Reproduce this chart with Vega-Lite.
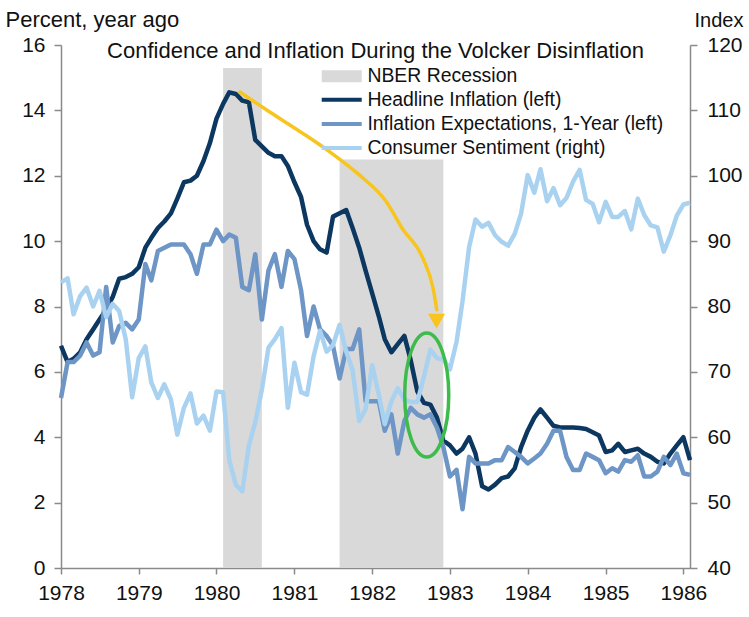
{
  "$schema": "https://vega.github.io/schema/vega-lite/v6.json",
  "width": 629,
  "height": 523,
  "autosize": {"type": "none"},
  "padding": {"left": 61, "top": 45, "right": 59, "bottom": 49},
  "background": "white",
  "title": {
    "text": "Confidence and Inflation During the Volcker Disinflation",
    "anchor": "middle",
    "frame": "group",
    "baseline": "alphabetic",
    "offset": -72,
    "fontSize": 22,
    "fontWeight": "normal",
    "font": "Liberation Sans",
    "color": "#111111"
  },
  "config": {
    "view": {"stroke": null},
    "font": "Liberation Sans",
    "axis": {
      "grid": false,
      "domainColor": "#8a8a8a",
      "domainWidth": 1.5,
      "tickColor": "#8a8a8a",
      "tickWidth": 1.5,
      "labelFontSize": 21,
      "labelColor": "#111111",
      "labelFont": "Liberation Sans",
      "titleFontSize": 22,
      "titleFontWeight": "normal",
      "titleColor": "#111111",
      "titleFont": "Liberation Sans"
    },
    "legend": {
      "labelFontSize": 19.4,
      "labelFont": "Liberation Sans",
      "labelColor": "#111111",
      "labelLimit": 400,
      "padding": 0,
      "offset": 0,
      "symbolSize": 100,
      "symbolOffset": 10,
      "labelOffset": 16,
      "symbolOpacity": 1
    }
  },
  "datasets": {
    "monthly": [
      {"date": "1978-01-01", "headline": 6.8, "expect": 5.2, "sentiment": 83.7},
      {"date": "1978-02-01", "headline": 6.3, "expect": 6.3, "sentiment": 84.3},
      {"date": "1978-03-01", "headline": 6.4, "expect": 6.3, "sentiment": 78.8},
      {"date": "1978-04-01", "headline": 6.6, "expect": 6.5, "sentiment": 81.6},
      {"date": "1978-05-01", "headline": 7.0, "expect": 6.9, "sentiment": 82.9},
      {"date": "1978-06-01", "headline": 7.3, "expect": 6.5, "sentiment": 80.0},
      {"date": "1978-07-01", "headline": 7.6, "expect": 6.6, "sentiment": 82.4},
      {"date": "1978-08-01", "headline": 7.9, "expect": 8.6, "sentiment": 78.4},
      {"date": "1978-09-01", "headline": 8.3, "expect": 6.9, "sentiment": 80.4},
      {"date": "1978-10-01", "headline": 8.85, "expect": 7.4, "sentiment": 79.3},
      {"date": "1978-11-01", "headline": 8.9, "expect": 7.5, "sentiment": 75.0},
      {"date": "1978-12-01", "headline": 9.0, "expect": 7.3, "sentiment": 66.1},
      {"date": "1979-01-01", "headline": 9.2, "expect": 7.6, "sentiment": 72.1},
      {"date": "1979-02-01", "headline": 9.8, "expect": 9.3, "sentiment": 73.9},
      {"date": "1979-03-01", "headline": 10.1, "expect": 8.8, "sentiment": 68.4},
      {"date": "1979-04-01", "headline": 10.4, "expect": 9.7, "sentiment": 66.0},
      {"date": "1979-05-01", "headline": 10.6, "expect": 9.8, "sentiment": 68.1},
      {"date": "1979-06-01", "headline": 10.85, "expect": 9.9, "sentiment": 65.8},
      {"date": "1979-07-01", "headline": 11.3, "expect": 9.9, "sentiment": 60.4},
      {"date": "1979-08-01", "headline": 11.8, "expect": 9.9, "sentiment": 64.5},
      {"date": "1979-09-01", "headline": 11.85, "expect": 9.6, "sentiment": 66.7},
      {"date": "1979-10-01", "headline": 12.0, "expect": 9.0, "sentiment": 62.1},
      {"date": "1979-11-01", "headline": 12.45, "expect": 9.9, "sentiment": 63.3},
      {"date": "1979-12-01", "headline": 13.0, "expect": 9.9, "sentiment": 61.0},
      {"date": "1980-01-01", "headline": 13.75, "expect": 10.35, "sentiment": 67.0},
      {"date": "1980-02-01", "headline": 14.2, "expect": 10.0, "sentiment": 66.9},
      {"date": "1980-03-01", "headline": 14.55, "expect": 10.2, "sentiment": 56.5},
      {"date": "1980-04-01", "headline": 14.5, "expect": 10.1, "sentiment": 52.7},
      {"date": "1980-05-01", "headline": 14.3, "expect": 8.6, "sentiment": 51.7},
      {"date": "1980-06-01", "headline": 14.25, "expect": 8.5, "sentiment": 58.7},
      {"date": "1980-07-01", "headline": 13.1, "expect": 9.6, "sentiment": 62.3},
      {"date": "1980-08-01", "headline": 12.9, "expect": 7.6, "sentiment": 67.3},
      {"date": "1980-09-01", "headline": 12.7, "expect": 9.1, "sentiment": 73.7},
      {"date": "1980-10-01", "headline": 12.6, "expect": 9.6, "sentiment": 75.0},
      {"date": "1980-11-01", "headline": 12.6, "expect": 8.6, "sentiment": 76.7},
      {"date": "1980-12-01", "headline": 12.3, "expect": 9.7, "sentiment": 64.5},
      {"date": "1981-01-01", "headline": 11.8, "expect": 9.45, "sentiment": 71.4},
      {"date": "1981-02-01", "headline": 11.35, "expect": 8.5, "sentiment": 66.9},
      {"date": "1981-03-01", "headline": 10.5, "expect": 7.1, "sentiment": 66.5},
      {"date": "1981-04-01", "headline": 10.0, "expect": 8.0, "sentiment": 72.4},
      {"date": "1981-05-01", "headline": 9.75, "expect": 7.3, "sentiment": 76.3},
      {"date": "1981-06-01", "headline": 9.65, "expect": 7.1, "sentiment": 73.1},
      {"date": "1981-07-01", "headline": 10.75, "expect": 6.8, "sentiment": 74.1},
      {"date": "1981-08-01", "headline": 10.85, "expect": 5.8, "sentiment": 77.2},
      {"date": "1981-09-01", "headline": 10.95, "expect": 6.7, "sentiment": 73.1},
      {"date": "1981-10-01", "headline": 10.4, "expect": 6.7, "sentiment": 70.3},
      {"date": "1981-11-01", "headline": 9.8, "expect": 7.3, "sentiment": 62.5},
      {"date": "1981-12-01", "headline": 9.1, "expect": 5.1, "sentiment": 64.3},
      {"date": "1982-01-01", "headline": 8.4, "expect": 5.1, "sentiment": 71.0},
      {"date": "1982-02-01", "headline": 7.7, "expect": 5.1, "sentiment": 66.5},
      {"date": "1982-03-01", "headline": 7.0, "expect": 4.2, "sentiment": 62.0},
      {"date": "1982-04-01", "headline": 6.6, "expect": 4.7, "sentiment": 65.5},
      {"date": "1982-05-01", "headline": 6.85, "expect": 3.5, "sentiment": 67.5},
      {"date": "1982-06-01", "headline": 7.1, "expect": 4.5, "sentiment": 65.7},
      {"date": "1982-07-01", "headline": 6.35, "expect": 4.9, "sentiment": 65.4},
      {"date": "1982-08-01", "headline": 5.4, "expect": 4.7, "sentiment": 65.4},
      {"date": "1982-09-01", "headline": 5.05, "expect": 4.6, "sentiment": 69.3},
      {"date": "1982-10-01", "headline": 5.0, "expect": 4.7, "sentiment": 73.4},
      {"date": "1982-11-01", "headline": 4.6, "expect": 4.3, "sentiment": 72.1},
      {"date": "1982-12-01", "headline": 3.9, "expect": 3.7, "sentiment": 71.9},
      {"date": "1983-01-01", "headline": 3.75, "expect": 2.8, "sentiment": 70.4},
      {"date": "1983-02-01", "headline": 3.5, "expect": 3.0, "sentiment": 74.6},
      {"date": "1983-03-01", "headline": 3.65, "expect": 1.8, "sentiment": 80.8},
      {"date": "1983-04-01", "headline": 4.0, "expect": 3.4, "sentiment": 89.1},
      {"date": "1983-05-01", "headline": 3.5, "expect": 3.2, "sentiment": 93.3},
      {"date": "1983-06-01", "headline": 2.5, "expect": 3.2, "sentiment": 92.2},
      {"date": "1983-07-01", "headline": 2.4, "expect": 3.2, "sentiment": 92.8},
      {"date": "1983-08-01", "headline": 2.55, "expect": 3.3, "sentiment": 90.9},
      {"date": "1983-09-01", "headline": 2.75, "expect": 3.3, "sentiment": 89.9},
      {"date": "1983-10-01", "headline": 2.8, "expect": 3.7, "sentiment": 89.3},
      {"date": "1983-11-01", "headline": 3.05, "expect": 3.55, "sentiment": 91.1},
      {"date": "1983-12-01", "headline": 3.7, "expect": 3.4, "sentiment": 94.2},
      {"date": "1984-01-01", "headline": 4.2, "expect": 3.2, "sentiment": 100.1},
      {"date": "1984-02-01", "headline": 4.6, "expect": 3.35, "sentiment": 97.4},
      {"date": "1984-03-01", "headline": 4.85, "expect": 3.5, "sentiment": 101.0},
      {"date": "1984-04-01", "headline": 4.6, "expect": 3.8, "sentiment": 96.1},
      {"date": "1984-05-01", "headline": 4.35, "expect": 4.2, "sentiment": 98.1},
      {"date": "1984-06-01", "headline": 4.3, "expect": 4.2, "sentiment": 95.5},
      {"date": "1984-07-01", "headline": 4.3, "expect": 3.4, "sentiment": 96.6},
      {"date": "1984-08-01", "headline": 4.3, "expect": 3.0, "sentiment": 99.1},
      {"date": "1984-09-01", "headline": 4.28, "expect": 3.0, "sentiment": 100.9},
      {"date": "1984-10-01", "headline": 4.25, "expect": 3.5, "sentiment": 96.3},
      {"date": "1984-11-01", "headline": 4.15, "expect": 3.4, "sentiment": 95.7},
      {"date": "1984-12-01", "headline": 4.05, "expect": 3.3, "sentiment": 92.9},
      {"date": "1985-01-01", "headline": 3.55, "expect": 2.9, "sentiment": 96.0},
      {"date": "1985-02-01", "headline": 3.6, "expect": 3.05, "sentiment": 93.7},
      {"date": "1985-03-01", "headline": 3.8, "expect": 2.95, "sentiment": 93.7},
      {"date": "1985-04-01", "headline": 3.55, "expect": 3.3, "sentiment": 94.6},
      {"date": "1985-05-01", "headline": 3.6, "expect": 3.25, "sentiment": 91.8},
      {"date": "1985-06-01", "headline": 3.65, "expect": 3.45, "sentiment": 96.5},
      {"date": "1985-07-01", "headline": 3.5, "expect": 2.8, "sentiment": 94.0},
      {"date": "1985-08-01", "headline": 3.4, "expect": 2.8, "sentiment": 92.4},
      {"date": "1985-09-01", "headline": 3.25, "expect": 2.95, "sentiment": 92.1},
      {"date": "1985-10-01", "headline": 3.2, "expect": 3.4, "sentiment": 88.4},
      {"date": "1985-11-01", "headline": 3.5, "expect": 3.15, "sentiment": 90.9},
      {"date": "1985-12-01", "headline": 3.75, "expect": 3.5, "sentiment": 93.9},
      {"date": "1986-01-01", "headline": 4.0, "expect": 2.9, "sentiment": 95.6},
      {"date": "1986-02-01", "headline": 3.3, "expect": 2.85, "sentiment": 95.9}
    ],
    "recessions": [
      {"date": "1980-02-01", "end": "1980-08-01", "top": 15.3, "label": "NBER Recession"},
      {"date": "1981-08-01", "end": "1982-12-01", "top": 12.5, "label": "NBER Recession"}
    ],
    "arrow": [
      {"date": "1980-04-20", "value": 14.56},
      {"date": "1980-09-07", "value": 13.95},
      {"date": "1981-02-11", "value": 13.29},
      {"date": "1981-06-16", "value": 12.73},
      {"date": "1981-11-04", "value": 12.01},
      {"date": "1982-03-09", "value": 11.2},
      {"date": "1982-05-23", "value": 10.38},
      {"date": "1982-08-28", "value": 9.46},
      {"date": "1982-10-14", "value": 8.55},
      {"date": "1982-10-31", "value": 7.9}
    ],
    "arrowhead": [
      {"date": "1982-10-30", "value": 7.55}
    ],
    "circled": [
      {"date": "1982-09-14", "value": 5.29}
    ]
  },
  "layer": [
    {
      "layer": [
        {
          "data": {"name": "recessions"},
          "mark": {"type": "rect"},
          "encoding": {
            "x": {
              "field": "date", "type": "temporal",
              "scale": {"type": "utc", "nice": false, "domain": [{"year": 1978, "month": 1, "date": 1, "utc": true}, {"year": 1986, "month": 2, "date": 1, "utc": true}]},
              "axis": {"title": null, "format": "%Y", "tickCount": {"interval": "year", "step": 1}, "tickSize": 6, "labelPadding": 8, "labelFlush": false, "labelOverlap": false}
            },
            "x2": {"field": "end"},
            "y": {
              "field": "top", "type": "quantitative",
              "scale": {"domain": [0, 16], "nice": false, "zero": false},
              "axis": {"title": "Percent, year ago", "titleAngle": 0, "titleAlign": "left", "titleBaseline": "alphabetic", "titleX": -56, "titleY": -19, "values": [0, 2, 4, 6, 8, 10, 12, 14, 16], "tickSize": 7, "labelPadding": 9, "labelOverlap": false, "labelFlush": false}
            },
            "y2": {"datum": 0},
            "fill": {
              "field": "label", "type": "nominal",
              "scale": {"domain": ["NBER Recession"], "range": ["#d9d9d9"]},
              "legend": {"title": null, "orient": "none", "legendX": 261, "legendY": 21.5, "symbolType": "M-4,-1.2H4V1.2H-4Z", "symbolStrokeWidth": 0}
            }
          }
        },
        {
          "data": {"name": "monthly"},
          "mark": {"type": "line", "strokeWidth": 4.5, "strokeJoin": "round"},
          "encoding": {
            "x": {"field": "date", "type": "temporal"},
            "y": {"field": "headline", "type": "quantitative"},
            "stroke": {
              "datum": "Headline Inflation (left)", "type": "nominal",
              "scale": {"domain": ["Headline Inflation (left)", "Inflation Expectations, 1-Year (left)", "Consumer Sentiment (right)"], "range": ["#0b3761", "#6d95c6", "#a9d2f1"]},
              "legend": {"title": null, "orient": "none", "legendX": 261, "legendY": 45, "rowPadding": 3.2, "symbolType": "M-4,0H4", "symbolStrokeWidth": 4}
            }
          }
        },
        {
          "data": {"name": "monthly"},
          "mark": {"type": "line", "strokeWidth": 4.5, "strokeJoin": "round"},
          "encoding": {
            "x": {"field": "date", "type": "temporal"},
            "y": {"field": "expect", "type": "quantitative"},
            "stroke": {"datum": "Inflation Expectations, 1-Year (left)", "type": "nominal"}
          }
        }
      ]
    },
    {
      "data": {"name": "monthly"},
      "mark": {"type": "line", "strokeWidth": 4.5, "strokeJoin": "round"},
      "encoding": {
        "x": {"field": "date", "type": "temporal"},
        "y": {
          "field": "sentiment", "type": "quantitative",
          "scale": {"domain": [40, 120], "nice": false, "zero": false},
          "axis": {"orient": "right", "title": "Index", "titleFontSize": 20, "titleAngle": 0, "titleAlign": "left", "titleBaseline": "alphabetic", "titleX": 4, "titleY": -19, "values": [40, 50, 60, 70, 80, 90, 100, 110, 120], "tickSize": 7, "labelPadding": 10, "labelOverlap": false, "labelFlush": false}
        },
        "stroke": {"datum": "Consumer Sentiment (right)", "type": "nominal"}
      }
    },
    {
      "layer": [
        {
          "data": {"name": "arrow"},
          "mark": {"type": "line", "stroke": "#f8c41e", "strokeWidth": 3.5, "interpolate": "monotone", "strokeCap": "round"},
          "encoding": {
            "x": {"field": "date", "type": "temporal"},
            "y": {"field": "value", "type": "quantitative", "scale": {"domain": [0, 16], "nice": false, "zero": false}, "axis": null}
          }
        },
        {
          "data": {"name": "arrowhead"},
          "mark": {"type": "point", "shape": "triangle-down", "size": 289, "filled": true, "fill": "#f8c41e", "strokeWidth": 0, "opacity": 1},
          "encoding": {
            "x": {"field": "date", "type": "temporal"},
            "y": {"field": "value", "type": "quantitative", "scale": {"domain": [0, 16], "nice": false, "zero": false}, "axis": null}
          }
        },
        {
          "data": {"name": "circled"},
          "mark": {"type": "point", "shape": "M0,-1C0.196,-1,0.355,-0.552,0.355,0C0.355,0.552,0.196,1,0,1C-0.196,1,-0.355,0.552,-0.355,0C-0.355,-0.552,-0.196,-1,0,-1Z", "size": 15376, "filled": false, "stroke": "#3dbb4b", "strokeWidth": 3.5, "opacity": 1},
          "encoding": {
            "x": {"field": "date", "type": "temporal"},
            "y": {"field": "value", "type": "quantitative", "scale": {"domain": [0, 16], "nice": false, "zero": false}, "axis": null}
          }
        }
      ]
    }
  ],
  "resolve": {"scale": {"y": "independent"}}
}
